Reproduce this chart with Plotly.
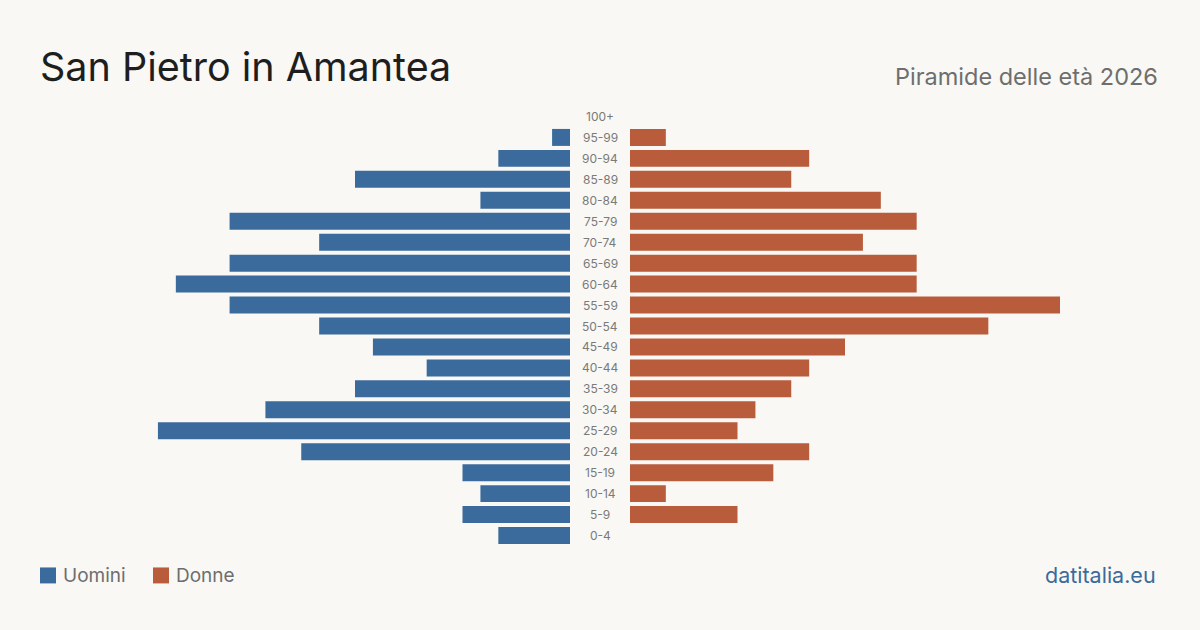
import plotly.graph_objects as go

ages = ["0-4", "5-9", "10-14", "15-19", "20-24", "25-29", "30-34", "35-39", "40-44", "45-49",
        "50-54", "55-59", "60-64", "65-69", "70-74", "75-79", "80-84", "85-89", "90-94", "95-99", "100+"]
uomini = [4, 6, 5, 6, 15, 23, 17, 12, 8, 11, 14, 19, 22, 19, 14, 19, 5, 12, 4, 1, 0]
donne = [0, 6, 2, 8, 10, 6, 7, 9, 10, 12, 20, 24, 16, 16, 13, 16, 14, 9, 10, 2, 0]

title = "San Pietro in Amantea"
subtitle = "Piramide delle età 2026"
source = "datitalia.eu"
name_m = "Uomini"
name_f = "Donne"

BLUE = "#3b6b9c"
RED = "#b95c3c"
BG = "#f9f8f4"
FONT = "Inter"

W, H = 1200, 630
vmax = max(max(uomini), max(donne))

top = 105.5
bot_px = 546.5
ph = bot_px - top


def py(ypx):
    return (bot_px - ypx) / ph


fig = go.Figure()
fig.add_trace(go.Bar(y=ages, x=uomini, orientation="h", marker=dict(color=BLUE, line=dict(width=0)),
                     name=name_m, xaxis="x", yaxis="y", showlegend=False, hoverinfo="x+y"))
fig.add_trace(go.Bar(y=ages, x=donne, orientation="h", marker=dict(color=RED, line=dict(width=0)),
                     name=name_f, xaxis="x2", yaxis="y", showlegend=False, hoverinfo="x+y"))

annotations = []
for a in ages:
    annotations.append(dict(x=0.5, xref="paper", y=a, yref="y", text=a, showarrow=False,
                            xanchor="center", yanchor="middle",
                            font=dict(family=FONT, size=12, color="#7a7a7a")))

annotations += [
    dict(x=38 / W, y=py(66), xref="paper", yref="paper", text=title, showarrow=False,
         xanchor="left", yanchor="middle", font=dict(family=FONT, size=39.5, color="#1e1e1e")),
    dict(x=1160 / W, y=py(76), xref="paper", yref="paper", text=subtitle, showarrow=False,
         xanchor="right", yanchor="middle", font=dict(family=FONT, size=23.5, color="#6e6e6e")),
    dict(x=1158 / W, y=py(576), xref="paper", yref="paper", text=source, showarrow=False,
         xanchor="right", yanchor="middle", font=dict(family=FONT, size=21.5, color=BLUE)),
    dict(x=61 / W, y=py(576), xref="paper", yref="paper", text=name_m, showarrow=False,
         xanchor="left", yanchor="middle", font=dict(family=FONT, size=19, color="#6e6e6e")),
    dict(x=174 / W, y=py(576), xref="paper", yref="paper", text=name_f, showarrow=False,
         xanchor="left", yanchor="middle", font=dict(family=FONT, size=19, color="#6e6e6e")),
]

shapes = [
    dict(type="rect", xref="paper", yref="paper", x0=40 / W, x1=56 / W, y0=py(584), y1=py(568),
         fillcolor=BLUE, line=dict(width=0)),
    dict(type="rect", xref="paper", yref="paper", x0=153 / W, x1=169 / W, y0=py(584), y1=py(568),
         fillcolor=RED, line=dict(width=0)),
]

fig.update_layout(
    width=W, height=H,
    paper_bgcolor=BG, plot_bgcolor=BG,
    margin=dict(l=0, r=0, t=top, b=H - bot_px),
    bargap=0.19,
    showlegend=False,
    xaxis=dict(domain=[140 / W, 570 / W], range=[vmax, 0], visible=False, fixedrange=True),
    xaxis2=dict(domain=[630 / W, 1060 / W], range=[0, vmax], visible=False, fixedrange=True),
    yaxis=dict(type="category", categoryorder="array", categoryarray=ages, range=[-0.5, len(ages) - 0.5],
               visible=False, fixedrange=True),
    annotations=annotations,
    shapes=shapes,
)

fig.write_html("out.html")
